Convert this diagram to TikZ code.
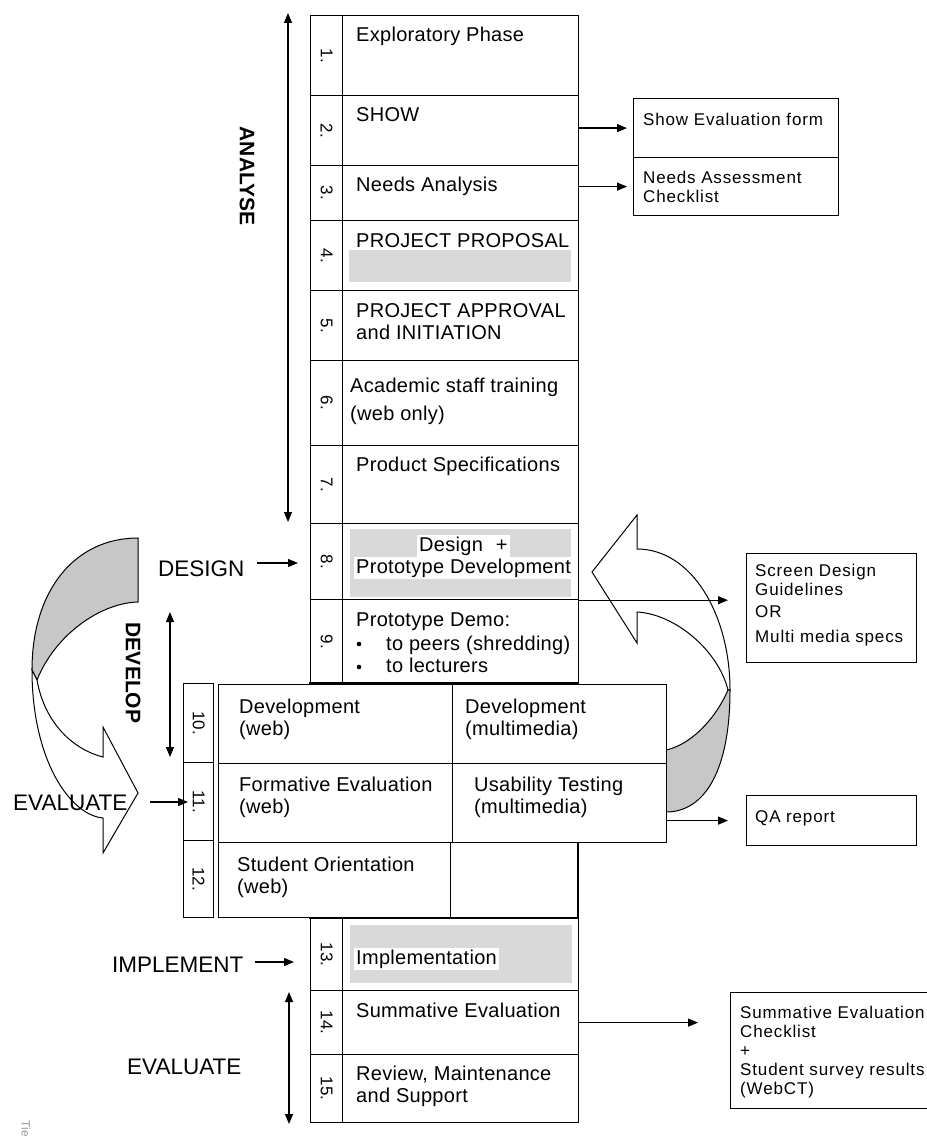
\documentclass[tikz,border=0pt]{standalone}
\usepackage{fontspec}
\setmainfont{Liberation Sans}
\newfontfamily\mainf[LetterSpace=1.5]{Liberation Sans}
\newfontfamily\sidef[LetterSpace=5]{Liberation Sans}
\usetikzlibrary{arrows.meta}
\tikzset{
  cell/.style={draw, line width=1.2pt, inner sep=0pt, anchor=north west, fill=white},
  numlbl/.style={rotate=-90, inner sep=0pt, font=\mainf\fontsize{17}{17}\selectfont},
  txt/.style={anchor=base west, align=left, inner sep=0pt, font=\mainf\fontsize{20}{22}\selectfont},
  sidetxt/.style={anchor=base west, align=left, inner sep=0pt, font=\sidef\fontsize{17}{19}\selectfont},
  lbl/.style={anchor=base west, inner sep=0pt, font=\fontsize{22.5}{24}\selectfont},
  vlbl/.style={rotate=-90, inner sep=0pt, font=\bfseries\fontsize{21}{24}\selectfont},
  arr/.style={line width=1.2pt, -{Triangle[length=10pt,width=8pt]}},
  darr/.style={line width=1.2pt, {Triangle[length=10pt,width=8pt]}-{Triangle[length=10pt,width=8pt]}},
  shadeband/.style={fill=black!15},
  ribbon/.style={draw, line width=1pt},
}
\begin{document}
\begin{tikzpicture}[x=1pt,y=-1pt]
\useasboundingbox (0,0) rectangle (926,1142);

% ---------- curved arrows ----------
\draw[ribbon, fill=black!22] (138,538) .. controls (75,538) and (32,590) .. (32,670)
  -- (37,680) .. controls (55,635) and (100,603) .. (138,602) -- cycle;
\draw[ribbon, fill=white] (32,670) .. controls (32,760) and (70,815) .. (103,818)
  -- (103,853) -- (138,793) -- (103,727) -- (103,757)
  .. controls (75,750) and (45,725) .. (37,680) -- cycle;

\draw[ribbon, fill=white] (637,549) .. controls (692,549) and (730,615) .. (730,690)
  -- (728,690) .. controls (718,650) and (675,614) .. (637,612)
  -- (637,643) -- (592,572) -- (637,515) -- cycle;
\draw[ribbon, fill=black!22] (730,690) .. controls (730,770) and (705,812) .. (666,812)
  -- (666,750) .. controls (690,745) and (715,720) .. (728,690) -- cycle;

% ---------- main column ----------
\node[cell, minimum width=32pt, minimum height=80pt] (n1) at (310,15) {};
\node[cell, minimum width=236pt, minimum height=80pt] (r1) at (342,15) {};
\node[cell, minimum width=32pt, minimum height=70pt] (n2) at (310,95) {};
\node[cell, minimum width=236pt, minimum height=70pt] (r2) at (342,95) {};
\node[cell, minimum width=32pt, minimum height=55pt] (n3) at (310,165) {};
\node[cell, minimum width=236pt, minimum height=55pt] (r3) at (342,165) {};
\node[cell, minimum width=32pt, minimum height=70pt] (n4) at (310,220) {};
\node[cell, minimum width=236pt, minimum height=70pt] (r4) at (342,220) {};
\node[cell, minimum width=32pt, minimum height=70pt] (n5) at (310,290) {};
\node[cell, minimum width=236pt, minimum height=70pt] (r5) at (342,290) {};
\node[cell, minimum width=32pt, minimum height=85pt] (n6) at (310,360) {};
\node[cell, minimum width=236pt, minimum height=85pt] (r6) at (342,360) {};
\node[cell, minimum width=32pt, minimum height=78pt] (n7) at (310,445) {};
\node[cell, minimum width=236pt, minimum height=78pt] (r7) at (342,445) {};
\node[cell, minimum width=32pt, minimum height=76pt] (n8) at (310,523) {};
\node[cell, minimum width=236pt, minimum height=76pt] (r8) at (342,523) {};
\node[cell, minimum width=32pt, minimum height=84pt] (n9) at (310,599) {};
\node[cell, minimum width=236pt, minimum height=84pt] (r9) at (342,599) {};
\draw[line width=1.2pt] (310,683) rectangle (578,918);
\node[cell, minimum width=32pt, minimum height=72pt] (n13) at (310,918) {};
\node[cell, minimum width=236pt, minimum height=72pt] (r13) at (342,918) {};
\node[cell, minimum width=32pt, minimum height=64pt] (n14) at (310,990) {};
\node[cell, minimum width=236pt, minimum height=64pt] (r14) at (342,990) {};
\node[cell, minimum width=32pt, minimum height=68pt] (n15) at (310,1054) {};
\node[cell, minimum width=236pt, minimum height=68pt] (r15) at (342,1054) {};

% ---------- rows 10-12 block ----------
\node[cell, minimum width=30pt, minimum height=79pt] (n10) at (183,683) {};
\node[cell, minimum width=30pt, minimum height=78pt] (n11) at (183,762) {};
\node[cell, minimum width=30pt, minimum height=77pt] (n12) at (183,840) {};
\node[cell, minimum width=234pt, minimum height=79pt] (c10l) at (218,684) {};
\node[cell, minimum width=214pt, minimum height=79pt] (c10r) at (452,684) {};
\node[cell, minimum width=234pt, minimum height=79pt] (c11l) at (218,763) {};
\node[cell, minimum width=214pt, minimum height=79pt] (c11r) at (452,763) {};
\node[cell, minimum width=232pt, minimum height=75pt] (c12) at (218,842) {};

% ---------- side boxes ----------
\node[cell, minimum width=205pt, minimum height=59pt] (showf) at (633,98) {};
\node[cell, minimum width=205pt, minimum height=58pt] (needf) at (633,157) {};
\node[cell, minimum width=170pt, minimum height=109pt] (scr) at (746,553) {};
\node[cell, minimum width=170pt, minimum height=50pt] (qa) at (746,795) {};
\node[cell, minimum width=200pt, minimum height=116pt] (summ) at (730,992) {};

% ---------- shading ----------
\fill[shadeband] (349,250) rectangle (571,282);
\fill[shadeband] (350,529) rectangle (571,597);
\fill[shadeband] (350,925) rectangle (572,983);

% ---------- numbers ----------
\node[numlbl] (l1) at (n1.center) {1.};
\node[numlbl] (l2) at (n2.center) {2.};
\node[numlbl] (l3) at (n3.center) {3.};
\node[numlbl] (l4) at (n4.center) {4.};
\node[numlbl] (l5) at (n5.center) {5.};
\node[numlbl] (l6) at (n6.center) {6.};
\node[numlbl] (l7) at (n7.center) {7.};
\node[numlbl] (l8) at (n8.center) {8.};
\node[numlbl] (l9) at (n9.center) {9.};
\node[numlbl] (l10) at (n10.center) {10.};
\node[numlbl] (l11) at (n11.center) {11.};
\node[numlbl] (l12) at (n12.center) {12.};
\node[numlbl] (l13) at (n13.center) {13.};
\node[numlbl] (l14) at (n14.center) {14.};
\node[numlbl] (l15) at (n15.center) {15.};

% ---------- row texts (multi-line nodes: y = baseline of last line) ----------
\node[txt] (t1) at (356,42) {Exploratory Phase};
\node[txt] (t2) at (356,122) {SHOW};
\node[txt] (t3) at (356,192) {Needs Analysis};
\node[txt] (t4) at (356,247) {PROJECT PROPOSAL};
\node[txt] (t5) at (356,339) {PROJECT APPROVAL\\and INITIATION};
\node[txt] (t6) at (350,420) {Academic staff training\\[6pt](web only)};
\node[txt] (t7) at (356,471) {Product Specifications};
\node[txt, fill=white, inner sep=2pt] (t8a) at (417,551) {Design\hspace{13pt}+};
\node[txt, fill=white, inner sep=2pt] (t8b) at (354,573) {Prototype Development};
\node[txt] (t9) at (356,626) {Prototype Demo:};
\node[txt] (t9b) at (386,672) {to peers (shredding)\\to lecturers};
\fill (359,644) circle (2.3);
\fill (359,667) circle (2.3);
\node[txt] (t10l) at (239,735) {Development\\(web)};
\node[txt] (t10r) at (465,735) {Development\\(multimedia)};
\node[txt] (t11l) at (239,813) {Formative Evaluation\\(web)};
\node[txt] (t11r) at (474,813) {Usability Testing\\(multimedia)};
\node[txt] (t12) at (237,893) {Student Orientation\\(web)};
\node[txt, fill=white, inner sep=2pt] (t13) at (354,964) {Implementation};
\node[txt] (t14) at (356,1017) {Summative Evaluation};
\node[txt] (t15) at (356,1102) {Review, Maintenance\\and Support};

% ---------- side texts ----------
\node[sidetxt] (s1) at (643,126) {Show Evaluation form};
\node[sidetxt] (s2) at (643,202) {Needs Assessment\\Checklist};
\node[sidetxt] (s3) at (755,642) {Screen Design\\Guidelines\\[3pt]OR\\[6pt]Multi media specs};
\node[sidetxt] (s4) at (755,822) {QA report};
\node[sidetxt] (s5) at (740,1094) {Summative Evaluation\\Checklist\\+\\Student survey results\\(WebCT)};

% ---------- phase labels ----------
\node[vlbl] (analyse) at (247,176) {ANALYSE};
\node[vlbl] (develop) at (133,673) {DEVELOP};
\node[lbl] (design) at (158,576) {DESIGN};
\node[lbl] (evalA) at (13,810) {EVALUATE};
\node[lbl] (implement) at (112,972) {IMPLEMENT};
\node[lbl] (evalB) at (127,1074) {EVALUATE};
\node[text=black!40, rotate=-90, inner sep=0pt, font=\fontsize{12}{12}\selectfont] (tie) at (26,1129) {Tie};

% ---------- label arrows ----------
\coordinate (anT) at (288,13);
\coordinate (anB) at (288,522);
\draw[darr] (anT) -- (anB);
\coordinate (dvT) at (170,612);
\coordinate (dvB) at (170,757);
\draw[darr] (dvT) -- (dvB);
\coordinate (evT) at (289,992);
\coordinate (evB) at (289,1124);
\draw[darr] (evT) -- (evB);
\coordinate (dsA) at (257,563);
\draw[arr, shorten >=12pt] (dsA) -- (dsA -| n8.west);
\coordinate (evA) at (150,802);
\draw[arr, shorten >=-5pt] (evA) -- (evA -| n11.west);
\coordinate (imA) at (255,962);
\draw[arr, shorten >=16pt] (imA) -- (imA -| n13.west);

% ---------- connectors to side boxes ----------
\draw[arr, shorten >=6pt] (showf.west -| r2.east) -- (showf.west);
\draw[arr, shorten >=6pt] (needf.west -| r3.east) -- (needf.west);
\draw[arr, shorten >=18pt] (r8.south east) -- (r8.south east -| scr.west);
\draw[arr, shorten >=18pt] (qa.west -| c11r.east) -- (qa.west);
\draw[arr, shorten >=32pt] (r14.east) -- (r14.east -| summ.west);
\end{tikzpicture}
\end{document}
